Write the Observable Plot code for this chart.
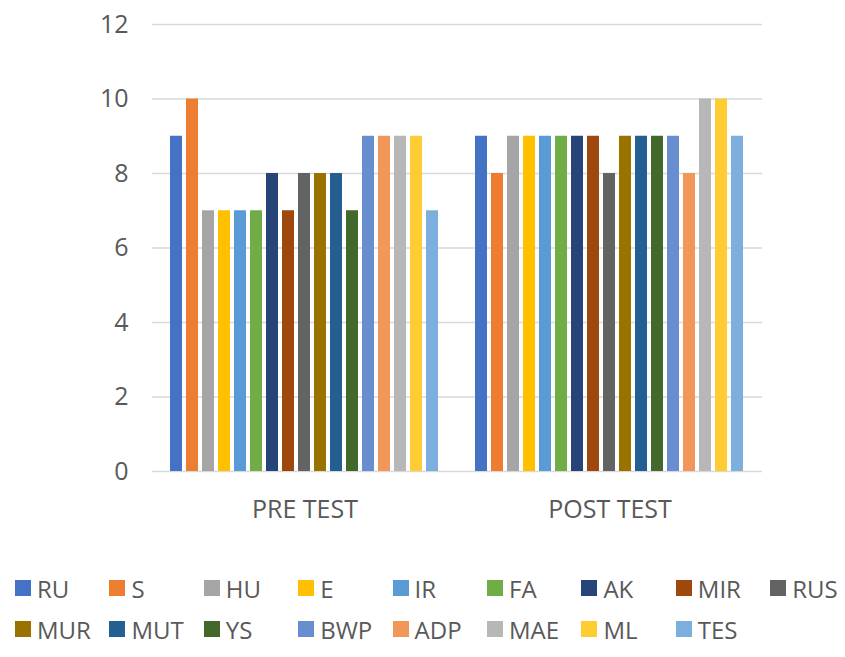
<!DOCTYPE html>
<html>
<head>
<meta charset="utf-8">
<script src="https://cdn.jsdelivr.net/npm/d3@7"></script>
<script src="https://cdn.jsdelivr.net/npm/@observablehq/plot@0.6"></script>
<style>
  html, body { margin: 0; padding: 0; background: #ffffff; }
  #chart { width: 845px; }
  .legend { position: relative; width: 845px; height: 110px; font-family: "Open Sans", sans-serif; font-size: 24px; color: #595959; }
  .legend .item { position: absolute; display: flex; align-items: center; height: 30px; white-space: nowrap; }
  .legend .sw { width: 16px; height: 16px; margin-right: 6px; flex: none; }
</style>
</head>
<body>
<div id="chart"></div>
<div class="legend" id="legend"></div>
<script>
const groups = ["PRE TEST", "POST TEST"];
const series = ["RU", "S", "HU", "E", "IR", "FA", "AK", "MIR", "RUS", "MUR", "MUT", "YS", "BWP", "ADP", "MAE", "ML", "TES"];
const preTest  = [9, 10, 7, 7, 7, 7, 8, 7, 8, 8, 8, 7, 9, 9, 9, 9, 7];
const postTest = [9, 8, 9, 9, 9, 9, 9, 9, 8, 9, 9, 9, 9, 8, 10, 10, 9];
const colors = ["#4472C4", "#ED7D31", "#A5A5A5", "#FFC000", "#5B9BD5", "#70AD47", "#264478", "#9E480E", "#636363", "#997300", "#255E91", "#43682B", "#698ED0", "#F1975A", "#B7B7B7", "#FFCD33", "#7CAFDD"];
const yTicks = [0, 2, 4, 6, 8, 10, 12];

const data = [];
series.forEach((s, i) => {
  data.push({group: groups[0], series: s, value: preTest[i]});
  data.push({group: groups[1], series: s, value: postTest[i]});
});

const chart = Plot.plot({
  width: 845,
  height: 545,
  marginLeft: 152,
  marginRight: 83,
  marginTop: 24,
  marginBottom: 74,
  style: { fontFamily: "Open Sans, sans-serif", fontSize: "25px", color: "#595959", background: "#ffffff" },
  fx: { domain: groups, padding: 0, axis: "bottom", label: null, tickSize: 0, tickPadding: 29 },
  x: { domain: series, axis: null, paddingInner: 0.22, paddingOuter: 0.97 },
  y: { domain: [0, 12], ticks: yTicks, tickSize: 0, tickPadding: 24, label: null, tickFormat: d => d },
  color: { domain: series, range: colors },
  marks: [
    Plot.ruleY(yTicks, { stroke: "#d9d9d9", strokeWidth: 1.3 }),
    Plot.barY(data, { fx: "group", x: "series", y: "value", fill: "series" })
  ]
});
document.getElementById("chart").appendChild(chart);

const legend = document.getElementById("legend");
const perRow = 9;
series.forEach((s, i) => {
  const row = Math.floor(i / perRow), col = i % perRow;
  const item = document.createElement("div");
  item.className = "item";
  item.style.left = (15 + col * 94.4) + "px";
  item.style.top = (28 + row * 41) + "px";
  const sw = document.createElement("span");
  sw.className = "sw";
  sw.style.background = colors[i];
  const t = document.createElement("span");
  t.textContent = s;
  item.appendChild(sw);
  item.appendChild(t);
  legend.appendChild(item);
});
</script>
</body>
</html>
